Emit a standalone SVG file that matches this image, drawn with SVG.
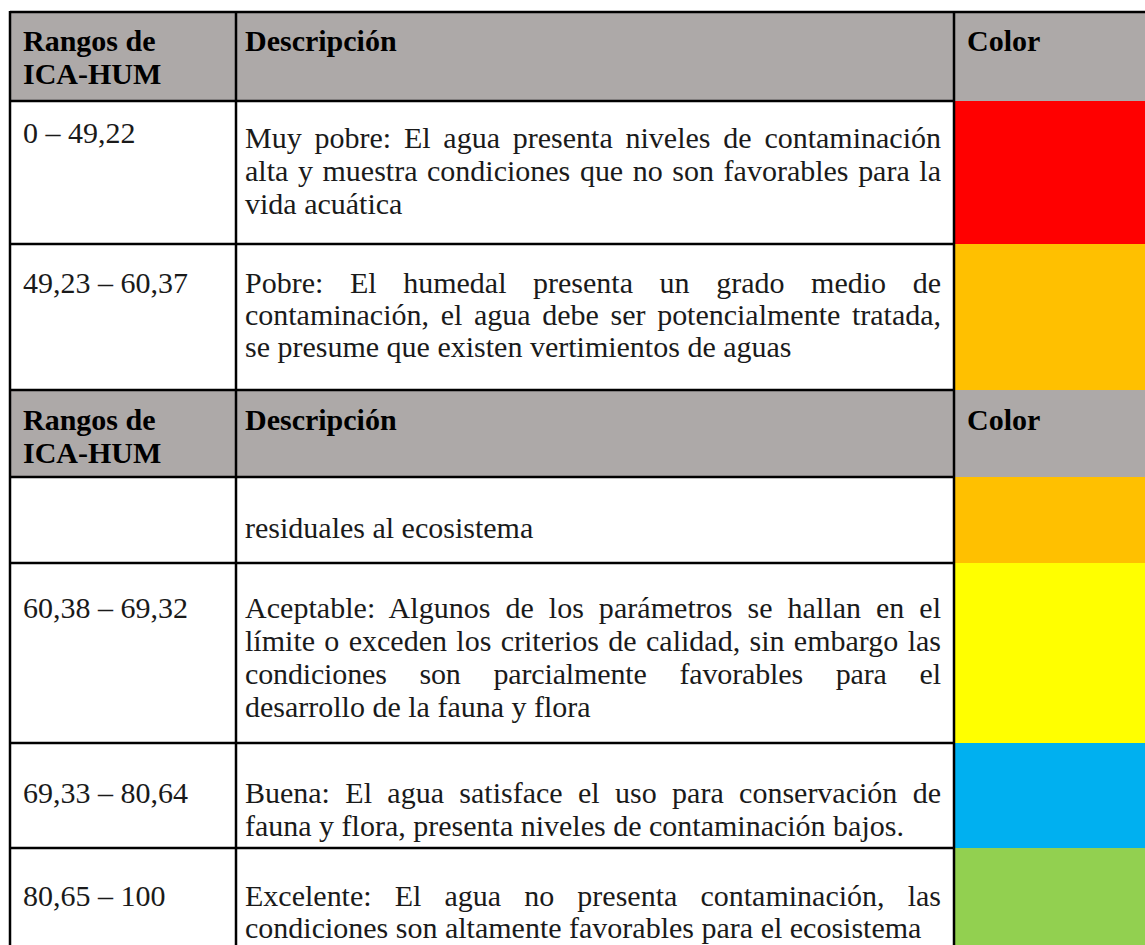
<svg xmlns="http://www.w3.org/2000/svg" width="1145" height="945" viewBox="0 0 1145 945">
<style>
.hd{fill:#ADA9A8}
.b{font-family:"Liberation Serif","Times New Roman",serif;font-size:30px;font-weight:bold;fill:#000}
.t{font-family:"Liberation Serif","Times New Roman",serif;font-size:30px;fill:#1a1a1a}
.ln{stroke:#000;stroke-width:2.5;fill:none}
</style>
<rect width="1145" height="945" fill="#fff"/>
<g id="header1">
<rect class="hd" x="10" y="12" width="1135" height="89"/>
<text class="b" x="23" y="51">Rangos de</text>
<text class="b" x="23" y="84">ICA-HUM</text>
<text class="b" x="245" y="51">Descripción</text>
<text class="b" x="967" y="51">Color</text>
</g>
<g id="header2">
<rect class="hd" x="10" y="390" width="1135" height="87"/>
<text class="b" x="23" y="430">Rangos de</text>
<text class="b" x="23" y="463">ICA-HUM</text>
<text class="b" x="245" y="430">Descripción</text>
<text class="b" x="967" y="430">Color</text>
</g>
<g id="row1">
<rect x="955" y="101" width="190" height="143" fill="#FF0000"/>
<text class="t" x="23" y="143">0 – 49,22</text>
<text class="t" x="245" y="148" word-spacing="5.3" textLength="696" lengthAdjust="spacing">Muy pobre: El agua presenta niveles de contaminación</text>
<text class="t" x="245" y="181" word-spacing="2.1" textLength="696" lengthAdjust="spacing">alta y muestra condiciones que no son favorables para la</text>
<text class="t" x="245" y="214">vida acuática</text>
</g>
<g id="row2">
<rect x="955" y="244" width="190" height="146" fill="#FFC000"/>
<text class="t" x="23" y="293">49,23 – 60,37</text>
<text class="t" x="245" y="293" word-spacing="19.1" textLength="696" lengthAdjust="spacing">Pobre: El humedal presenta un grado medio de</text>
<text class="t" x="245" y="325" word-spacing="4.2" textLength="696" lengthAdjust="spacing">contaminación, el agua debe ser potencialmente tratada,</text>
<text class="t" x="245" y="357">se presume que existen vertimientos de aguas</text>
</g>
<g id="row3">
<rect x="955" y="477" width="190" height="86" fill="#FFC000"/>
<text class="t" x="245" y="538">residuales al ecosistema</text>
</g>
<g id="row4">
<rect x="955" y="563" width="190" height="180" fill="#FFFF00"/>
<text class="t" x="23" y="618">60,38 – 69,32</text>
<text class="t" x="245" y="618" word-spacing="7.4" textLength="696" lengthAdjust="spacing">Aceptable: Algunos de los parámetros se hallan en el</text>
<text class="t" x="245" y="651" word-spacing="1.8" textLength="696" lengthAdjust="spacing">límite o exceden los criterios de calidad, sin embargo las</text>
<text class="t" x="245" y="684" word-spacing="25.4" textLength="696" lengthAdjust="spacing">condiciones son parcialmente favorables para el</text>
<text class="t" x="245" y="717">desarrollo de la fauna y flora</text>
</g>
<g id="row5">
<rect x="955" y="743" width="190" height="105" fill="#00B0F0"/>
<text class="t" x="23" y="803">69,33 – 80,64</text>
<text class="t" x="245" y="803" word-spacing="7.9" textLength="696" lengthAdjust="spacing">Buena: El agua satisface el uso para conservación de</text>
<text class="t" x="245" y="836">fauna y flora, presenta niveles de contaminación bajos.</text>
</g>
<g id="row6">
<rect x="955" y="848" width="190" height="97" fill="#92D050"/>
<text class="t" x="23" y="906">80,65 – 100</text>
<text class="t" x="245" y="906" word-spacing="15.6" textLength="696" lengthAdjust="spacing">Excelente: El agua no presenta contaminación, las</text>
<text class="t" x="245" y="938">condiciones son altamente favorables para el ecosistema</text>
</g>
<g id="connectors">
<line class="ln" x1="10" y1="12" x2="1145" y2="12"/>
<line class="ln" x1="10" y1="101" x2="954" y2="101"/>
<line class="ln" x1="10" y1="244" x2="954" y2="244"/>
<line class="ln" x1="10" y1="390" x2="954" y2="390"/>
<line class="ln" x1="10" y1="477" x2="954" y2="477"/>
<line class="ln" x1="10" y1="563" x2="954" y2="563"/>
<line class="ln" x1="10" y1="743" x2="954" y2="743"/>
<line class="ln" x1="10" y1="848" x2="954" y2="848"/>
<line class="ln" x1="10" y1="11" x2="10" y2="945"/>
<line class="ln" x1="236" y1="11" x2="236" y2="945"/>
<line class="ln" x1="954" y1="11" x2="954" y2="945"/>
</g>
</svg>
